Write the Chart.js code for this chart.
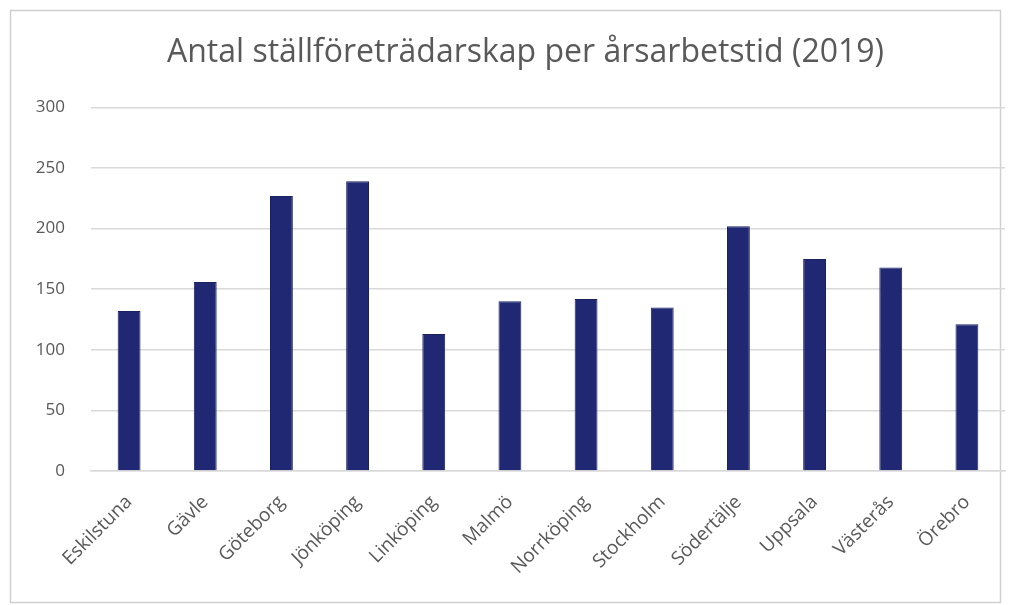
<!DOCTYPE html>
<html>
<head>
<meta charset="utf-8">
<script src="https://cdn.jsdelivr.net/npm/chart.js@4"></script>
<style>
  html, body { margin: 0; padding: 0; background: #ffffff; }
  #wrap { position: relative; width: 1027px; height: 605px; }
  canvas { display: block; }
</style>
</head>
<body>
<div id="wrap"><canvas id="chart" width="1027" height="605"></canvas></div>
<script>
// Cities
const categories = ["Eskilstuna", "Gävle", "Göteborg", "Jönköping", "Linköping", "Malmö",
  "Norrköping", "Stockholm", "Södertälje", "Uppsala", "Västerås", "Örebro"];
// Ställföreträdarskap per årsarbetstid, 2019
const values = [132, 156, 227, 239, 113, 140, 142, 135, 202, 175, 168, 121];
// Value axis ticks
const yTicks = [0, 50, 100, 150, 200, 250, 300];

const titleText = "Antal ställföreträdarskap per årsarbetstid (2019)";
const textColor = "#595959";
const gridColor = "#d9d9d9";
const barColor = "#212873";

// Thin frame around the chart panel
const framePlugin = {
  id: "frame",
  beforeDraw(chart) {
    const c = chart.ctx;
    c.save();
    c.fillStyle = "#ffffff";
    c.fillRect(0, 0, chart.width, chart.height);
    c.strokeStyle = "#d0d0d0";
    c.lineWidth = 1.5;
    c.strokeRect(10.5, 10.5, 990, 592);
    c.restore();
  }
};

// Center the title over the framed panel rather than the full canvas
const titleShift = {
  id: "titleShift",
  afterLayout(chart) {
    const t = chart.titleBlock;
    if (t) { t.left += 23; t.right += 23; }
  }
};

new Chart(document.getElementById("chart"), {
  type: "bar",
  data: {
    labels: categories,
    datasets: [{
      data: values,
      backgroundColor: barColor,
      borderColor: "#1b2262",
      borderWidth: 1,
      barPercentage: 0.30,
      categoryPercentage: 1.0
    }]
  },
  options: {
    responsive: false,
    animation: false,
    layout: { padding: { left: 0, right: 22, top: 0, bottom: 0 } },
    plugins: {
      legend: { display: false },
      tooltip: { enabled: false },
      title: {
        display: true,
        text: titleText,
        color: textColor,
        font: { family: "'Open Sans', sans-serif", size: 32, weight: "normal" },
        padding: { top: 34, bottom: 35 }
      }
    },
    scales: {
      x: {
        grid: { display: false, drawTicks: false },
        border: { display: true, color: gridColor, width: 1.5 },
        ticks: {
          color: textColor,
          font: { family: "'Open Sans', sans-serif", size: 19 },
          minRotation: 45,
          maxRotation: 45,
          padding: 20,
          autoSkip: false
        },
        afterFit(scale) { scale.height = 605 - 471; }
      },
      y: {
        min: 0,
        max: 300,
        afterBuildTicks(scale) { scale.ticks = yTicks.map(v => ({ value: v })); },
        grid: { color: gridColor, lineWidth: 1.5, drawTicks: false },
        border: { display: false },
        ticks: {
          color: textColor,
          font: { family: "'Open Sans', sans-serif", size: 17 },
          padding: 26
        },
        afterFit(scale) { scale.width = 91; }
      }
    }
  },
  plugins: [framePlugin, titleShift]
});
</script>
</body>
</html>
